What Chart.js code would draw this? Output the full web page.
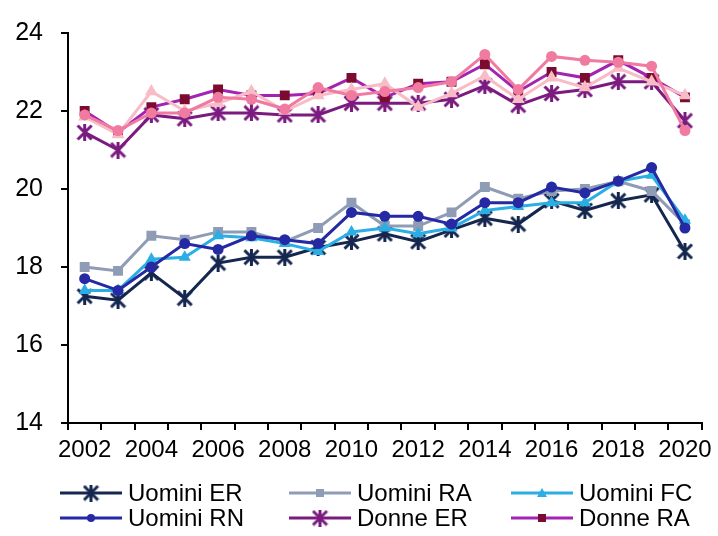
<!DOCTYPE html>
<html>
<head>
<meta charset="utf-8">
<script src="https://cdn.jsdelivr.net/npm/chart.js@4/dist/chart.umd.min.js"></script>
<style>
  html, body { margin: 0; padding: 0; background: #fff; }
  #wrap { width: 718px; height: 536px; }
</style>
</head>
<body>
<div id="wrap"><canvas id="c" width="718" height="536"></canvas></div>
<script>
// Years on the category axis
const years = ['2002','2003','2004','2005','2006','2007','2008','2009','2010','2011',
               '2012','2013','2014','2015','2016','2017','2018','2019','2020'];

// Y axis range and step
const yMin = 14, yMax = 24, yStep = 2;

// Series values
const uominiER = [17.25,17.15,17.85,17.2,18.1,18.25,18.25,18.5,18.65,18.85,18.65,18.95,19.25,19.1,19.7,19.45,19.7,19.85,18.4];
const uominiRA = [18.0,17.9,18.8,18.7,18.9,18.9,18.65,19.0,19.65,19.05,19.05,19.4,20.05,19.75,19.95,20.0,20.2,19.95,19.1];
const uominiFC = [17.4,17.4,18.2,18.25,18.8,18.75,18.6,18.4,18.9,19.0,18.85,19.0,19.45,19.55,19.65,19.65,20.2,20.35,19.2];
const uominiRN = [17.7,17.4,18.0,18.6,18.45,18.8,18.7,18.6,19.4,19.3,19.3,19.1,19.65,19.65,20.05,19.9,20.2,20.55,19.0];
const donneER  = [21.45,21.0,21.9,21.8,21.95,21.95,21.9,21.9,22.2,22.2,22.2,22.3,22.65,22.15,22.45,22.55,22.75,22.75,21.75];
const donneRA  = [22.0,21.45,22.1,22.3,22.55,22.4,22.4,22.45,22.85,22.35,22.7,22.75,23.2,22.5,23.0,22.85,23.3,22.85,22.35];
const donneFC  = [21.85,21.4,22.5,22.0,22.2,22.5,22.0,22.4,22.55,22.7,22.1,22.45,22.9,22.3,22.85,22.6,23.1,22.75,22.4];
const donneRN  = [21.9,21.5,21.95,21.95,22.35,22.3,22.05,22.6,22.4,22.5,22.6,22.75,23.45,22.55,23.4,23.3,23.25,23.15,21.5];

// Asterisk marker (X with a vertical bar) drawn onto a small canvas
function asterisk(color, size) {
  const cv = document.createElement('canvas');
  cv.width = size; cv.height = size;
  const g = cv.getContext('2d');
  g.strokeStyle = color; g.lineWidth = 3; g.lineCap = 'butt';
  const p = 1.5, s = size - 1.5;
  g.beginPath();
  g.moveTo(p, p); g.lineTo(s, s);
  g.moveTo(s, p); g.lineTo(p, s);
  g.moveTo(size / 2, 0); g.lineTo(size / 2, size);
  g.stroke();
  return cv;
}

const series = [
  { label: 'Uomini ER', data: uominiER, line: '#15264f', mark: '#15264f', style: asterisk('#15264f', 17), r: 8, legend: true },
  { label: 'Uomini RA', data: uominiRA, line: '#8f9cb6', mark: '#8f9cb6', style: 'rect', r: 7, legend: true },
  { label: 'Uomini FC', data: uominiFC, line: '#2aaee3', mark: '#2aaee3', style: 'triangle', r: 7, legend: true },
  { label: 'Uomini RN', data: uominiRN, line: '#2529a3', mark: '#2529a3', style: 'circle', r: 5.5, legend: true },
  { label: 'Donne ER',  data: donneER,  line: '#7b1b80', mark: '#7b1b80', style: asterisk('#7b1b80', 17), r: 8, legend: true },
  { label: 'Donne RA',  data: donneRA,  line: '#a323b3', mark: '#7c0b30', style: 'rect', r: 7, legend: true },
  { label: 'Donne FC',  data: donneFC,  line: '#f8bcc7', mark: '#f8bcc7', style: 'triangle', r: 7.5, legend: false },
  { label: 'Donne RN',  data: donneRN,  line: '#f07aa0', mark: '#f07aa0', style: 'circle', r: 5.5, legend: false }
];

const font = { family: '"Liberation Sans", Arial, sans-serif', size: 24 };
const yFont = { family: '"Liberation Sans", Arial, sans-serif', size: 25 };

// Legend laid out in a fixed grid under the x axis
const legendGrid = {
  id: 'legendGrid',
  afterDraw(chart) {
    const ctx = chart.ctx;
    const cols = [60, 289, 511];
    const rows = [493, 518];
    const lineLen = 62;
    ctx.save();
    ctx.font = font.size + 'px ' + font.family;
    ctx.textBaseline = 'middle';
    ctx.textAlign = 'left';
    series.filter(s => s.legend).forEach((s, i) => {
      const x = cols[i % 3], y = rows[Math.floor(i / 3)];
      ctx.strokeStyle = s.line; ctx.lineWidth = 3;
      ctx.beginPath(); ctx.moveTo(x, y); ctx.lineTo(x + lineLen, y); ctx.stroke();
      const cx = x + lineLen / 2;
      ctx.fillStyle = s.mark;
      if (typeof s.style !== 'string') {
        ctx.drawImage(s.style, cx - s.style.width / 2, y - s.style.height / 2);
      } else if (s.style === 'rect') {
        ctx.fillRect(cx - 4, y - 4, 8, 8);
      } else if (s.style === 'triangle') {
        ctx.beginPath(); ctx.moveTo(cx, y - 5); ctx.lineTo(cx + 5, y + 4); ctx.lineTo(cx - 5, y + 4); ctx.closePath(); ctx.fill();
      } else {
        ctx.beginPath(); ctx.arc(cx, y, 4, 0, Math.PI * 2); ctx.fill();
      }
      ctx.fillStyle = '#000';
      ctx.fillText(s.label, x + lineLen + 6, y + 1);
    });
    ctx.restore();
  }
};

new Chart(document.getElementById('c'), {
  type: 'line',
  data: {
    labels: years,
    datasets: series.map((s, i) => ({
      label: s.label,
      data: s.data,
      borderColor: s.line,
      backgroundColor: s.mark,
      borderWidth: 3,
      tension: 0,
      fill: false,
      pointStyle: s.style,
      pointRadius: s.r,
      pointBackgroundColor: s.mark,
      pointBorderColor: s.mark,
      pointBorderWidth: 0,
      order: series.length - i
    }))
  },
  plugins: [legendGrid],
  options: {
    responsive: false,
    animation: false,
    events: [],
    layout: { padding: { top: 29, right: 13, bottom: 0, left: 0 } },
    plugins: { legend: { display: false }, tooltip: { enabled: false } },
    scales: {
      x: {
        type: 'category',
        offset: true,
        afterFit(scale) { scale.height = 113; },
        grid: { offset: true, drawOnChartArea: false, drawTicks: true, tickLength: 7, color: '#000', lineWidth: 2 },
        border: { color: '#000', width: 2 },
        ticks: {
          autoSkip: false, maxRotation: 0, minRotation: 0, padding: 6,
          color: '#000', font: font,
          callback: (v, i) => (i % 2 === 0 ? years[i] : '')
        }
      },
      y: {
        min: yMin, max: yMax,
        afterFit(scale) { scale.width = 68; },
        grid: { drawOnChartArea: false, drawTicks: true, tickLength: 7, color: '#000', lineWidth: 2 },
        border: { color: '#000', width: 2 },
        ticks: { stepSize: yStep, padding: 18, color: '#000', font: yFont }
      }
    }
  }
});
</script>
</body>
</html>
